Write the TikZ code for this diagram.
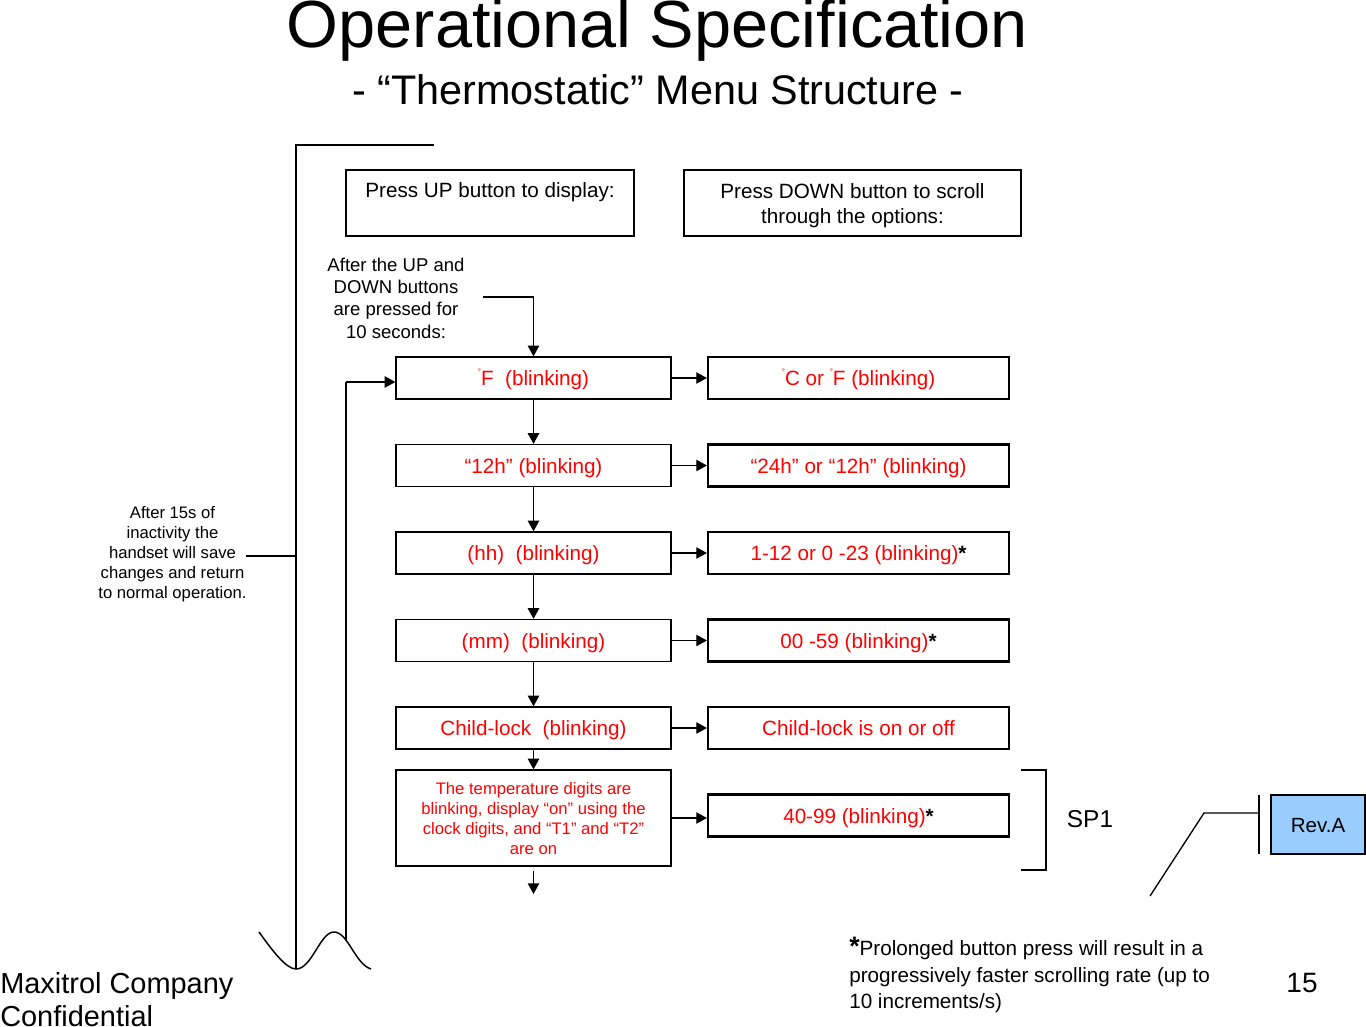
\documentclass[tikz,border=0pt]{standalone}
\usepackage{fontspec}
\setmainfont{Liberation Sans}
\usetikzlibrary{arrows.meta}
\definecolor{revblue}{HTML}{99CCFF}
\newcommand\myfs[2]{\fontsize{#1}{#2}\selectfont}
\newcommand\dg{\raisebox{0.55em}{\fontsize{6}{6}\selectfont °}}
\newcommand\bast{{\color{black}\bfseries *}}
\begin{document}
\begin{tikzpicture}[x=0.75pt,y=-0.75pt,
  arr/.style={line width=1pt,-{Triangle[length=8pt,width=8.5pt]}},
  ln/.style={line width=1pt},
  txt/.style={inner sep=0pt,align=center},
  boxbase/.style={draw,minimum height=31.5pt,inner sep=0pt,text=red,font=\myfs{15.5}{18.75},align=center},
  lbox/.style={boxbase,line width=0.9pt,minimum width=206.25pt,text height=11.8pt,text depth=0pt},
  rbox/.style={boxbase,line width=1.6pt,minimum width=225.75pt,text height=11.8pt,text depth=0pt},
  tallbox/.style={boxbase,line width=0.9pt,minimum width=206.25pt,minimum height=72pt,font=\myfs{12.5}{15}},
  topbox/.style={draw,line width=1pt,minimum height=49.5pt,inner sep=0pt,font=\myfs{15.5}{18.75},align=center}]
\useasboundingbox (0,0) rectangle (1366,1027);

% titles
\node[txt,font=\myfs{50}{55}] (title) at (657.5,30) {Operational Specification};
\node[txt,font=\myfs{31}{35}] (subtitle) at (658,90) {- “Thermostatic” Menu Structure -};

% top boxes
\node[topbox,minimum width=216pt] (upbox) at (490,203) {\rule{0pt}{16.5pt}Press UP button to display:\\\strut};
\node[topbox,minimum width=252.75pt] (downbox) at (852.5,203) {\rule{0pt}{15.8pt}Press DOWN button to scroll\\through the options:};

% intro text
\node[txt,font=\myfs{13.9}{16.7}] (intro) at (396,298) {After the UP and\\DOWN buttons\\are pressed for\\10 seconds:};

% left column
\node[lbox] (l1) at (533.5,378) {\dg F~ (blinking)};
\node[lbox] (l2) at (533.5,465.5) {“12h” (blinking)};
\node[lbox] (l3) at (533.5,553) {(hh)~ (blinking)};
\node[lbox] (l4) at (533.5,640.5) {(mm)~ (blinking)};
\node[lbox] (l5) at (533.5,728) {Child-lock~ (blinking)};
\node[tallbox] (l6) at (533.5,818) {\rule{0pt}{10.5pt}The temperature digits are\\blinking, display “on” using the\\clock digits, and “T1” and “T2”\\are on};

% right column
\node[rbox] (r1) at (858.5,378) {\dg C or \dg F (blinking)};
\node[rbox] (r2) at (858.5,465.5) {“24h” or “12h” (blinking)};
\node[rbox] (r3) at (858.5,553) {1-12 or 0 -23 (blinking)\bast};
\node[rbox] (r4) at (858.5,640.5) {00 -59 (blinking)\bast};
\node[rbox] (r5) at (858.5,728) {Child-lock is on or off};
\node[rbox] (r6) at (858.5,815.5) {40-99 (blinking)\bast};

% horizontal arrows
\foreach \i in {1,...,6} {\draw[arr] (l\i.east) -- (l\i.east -| r\i.west);}
% vertical arrows
\foreach \a/\b in {1/2,2/3,3/4,4/5,5/6} {\draw[arr] (l\a.south) -- (l\b.north);}
\coordinate (endarrow) at (533.5,894);
\draw[arr] (l6.south) ++(0,4) -- (endarrow);

% intro connector
\coordinate (introA) at (483,297);
\draw[arr] (introA) -- (introA -| l1.north) -- (l1.north);

% outer loop line
\coordinate (loopTop) at (296,145);
\coordinate (loopTopEnd) at (434,145);
\coordinate (trough) at (296,969);
\draw[ln] (trough) -- (loopTop) -- (loopTopEnd);

% inner loop line
\coordinate (innerTop) at (346,382);
\coordinate (innerBot) at (346,941);
\draw[ln] (innerBot) -- (innerTop);
\draw[arr] (innerTop) -- (innerTop -| l1.west);

% wave
\coordinate (w0) at (259,932);
\coordinate (w3) at (371,969);
\draw[line width=1.1pt] (w0) .. controls (272,950) and (286,969) .. (trough)
  .. controls (312,969) and (320,932) .. (334,932)
  .. controls (348,932) and (355,964) .. (w3);

% left note
\node[txt,font=\myfs{12.5}{15}] (leftnote) at (172.5,554) {After 15s of\\inactivity the\\handset will save\\changes and return\\to normal operation.};
\coordinate (lnStart) at (246,556);
\coordinate (lnEnd) at (296,556);
\draw[ln] (lnStart) -- (lnEnd);

% SP1 bracket
\coordinate (b1) at (1021,770);
\coordinate (b2) at (1046,770);
\coordinate (b3) at (1046,870);
\coordinate (b4) at (1021,870);
\draw[line width=1pt] (b1) -- (b2) -- (b3) -- (b4);
\node[txt,font=\myfs{18.3}{20}] (sp1) at (1090,819) {SP1};

% Rev.A callout
\node[draw,fill=revblue,line width=0.9pt,minimum width=70.5pt,minimum height=44.25pt,inner sep=0pt,text height=11.3pt,text depth=0pt,font=\myfs{15.4}{18}] (rev) at (1318,824.5) {Rev.A};
\coordinate (bar1) at (1259,795);
\coordinate (bar2) at (1259,854);
\coordinate (c1) at (1259,813);
\coordinate (c2) at (1204,813);
\coordinate (c3) at (1150,896);
\draw[line width=1pt] (bar1) -- (bar2);
\draw[line width=1pt] (c1) -- (c2) -- (c3);

% footnote
\node[anchor=north west,inner sep=0pt,align=left,font=\myfs{15.5}{20}] (foot) at (849,937) {{\bfseries\myfs{20}{20}*}Prolonged button press will result in a\\progressively faster scrolling rate (up to\\10 increments/s)};

% page number
\node[txt,font=\myfs{21}{24}] (page) at (1302,983) {15};

% company
\node[anchor=north west,inner sep=0pt,align=left,font=\myfs{21.7}{25}] (company) at (0,972) {Maxitrol Company\\Confidential};
\end{tikzpicture}
\end{document}
